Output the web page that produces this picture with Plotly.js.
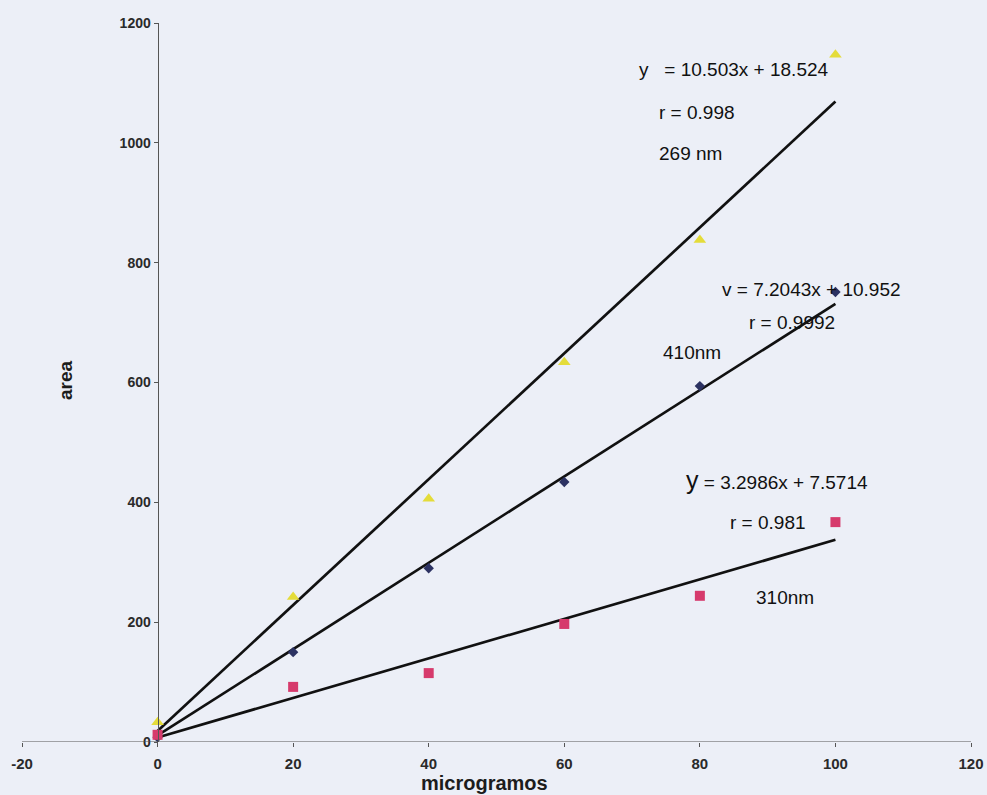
<!DOCTYPE html>
<html>
<head>
<meta charset="utf-8">
<script src="https://cdn.plot.ly/plotly-3.0.1.min.js"></script>
<style>html,body{margin:0;padding:0;background:#eceff7;}</style>
</head>
<body>
<div id="chart" style="width:987px;height:795px;"></div>
<script>
// Data
const xValues = [0, 20, 40, 60, 80, 100];
const area269 = [33, 242, 406, 634, 838, 1147];   // yellow triangles
const area410 = [8, 150, 290, 434, 594, 751];      // navy diamonds
const area310 = [12, 92, 115, 197, 244, 367];      // pink squares

const seriesNames = ['269 nm', '410nm', '310nm'];
const slopes = [10.503, 7.2043, 3.2986];
const intercepts = [18.524, 10.952, 7.5714];
const fitRange = [0, 100];

const xTicks = [-20, 0, 20, 40, 60, 80, 100, 120];
const yTicks = [0, 200, 400, 600, 800, 1000, 1200];

const markerStyles = [
  {symbol: 'triangle-up', color: '#e4dc3a', size: 11},
  {symbol: 'diamond', color: '#2c3262', size: 8},
  {symbol: 'square', color: '#d63a6c', size: 10}
];
const seriesData = [area269, area410, area310];

const traces = [];
for (let i = 0; i < 3; i++) {
  traces.push({
    x: fitRange,
    y: fitRange.map(v => slopes[i] * v + intercepts[i]),
    mode: 'lines',
    line: {color: '#111', width: 2.7},
    hoverinfo: 'skip',
    showlegend: false
  });
}
for (let i = 0; i < 3; i++) {
  traces.push({
    x: xValues,
    y: seriesData[i],
    name: seriesNames[i],
    mode: 'markers',
    marker: {symbol: markerStyles[i].symbol, color: markerStyles[i].color, size: markerStyles[i].size},
    showlegend: false
  });
}

const txtFont = {family: 'Liberation Sans, Arial, sans-serif', size: 19, color: '#111'};
function ann(x, y, text, extra) {
  return Object.assign({x: x, y: y, xref: 'x', yref: 'y', text: text, showarrow: false,
    xanchor: 'left', yanchor: 'middle', font: txtFont}, extra || {});
}

const layout = {
  width: 987, height: 795,
  margin: {l: 22, r: 16, t: 23, b: 53},
  paper_bgcolor: '#eceff7',
  plot_bgcolor: 'rgba(0,0,0,0)',
  showlegend: false,
  xaxis: {
    range: [-20, 120], tickvals: xTicks, ticktext: xTicks.map(String),
    showgrid: false, zeroline: false, showline: false,
    ticks: 'outside', ticklen: 4, tickcolor: '#555', ticklabelstandoff: 4,
    tickfont: {family: 'Liberation Sans, Arial, sans-serif', size: 15, color: '#2a2a2a', weight: 'bold'},
    anchor: 'free', position: 0
  },
  yaxis: {
    range: [0, 1200], tickvals: yTicks, ticktext: yTicks.map(String),
    showgrid: false, zeroline: false, showline: true, linecolor: '#555', linewidth: 1.2,
    ticks: 'outside', ticklen: 4, tickcolor: '#555',
    tickfont: {family: 'Liberation Sans, Arial, sans-serif', size: 14, color: '#2a2a2a', weight: 'bold'},
    anchor: 'free', position: 1 / 7
  },
  shapes: [
    {type: 'line', xref: 'x', yref: 'y', x0: -20, x1: 120, y0: 0, y1: 0, line: {color: '#555', width: 1.2}}
  ],
  annotations: [
    ann(70.8, 1123, 'y&nbsp;&nbsp; = 10.503x + 18.524'),
    ann(73.7, 1050, 'r = 0.998'),
    ann(73.7, 983, '269 nm'),
    ann(82.9, 756, 'v = 7.2043x + 10.952'),
    ann(86.9, 700, 'r = 0.9992'),
    ann(74.2, 650, '410nm'),
    ann(77.6, 437, '<span style="font-size:25px">y</span> = 3.2986x + 7.5714'),
    ann(84.2, 367, 'r = 0.981'),
    ann(88.0, 242, '310nm'),
    {xref: 'paper', yref: 'paper', x: (484 - 22) / 949, y: -(783 - 742) / 719, text: '<b>microgramos</b>',
     showarrow: false, xanchor: 'center', yanchor: 'middle',
     font: {family: 'Liberation Sans, Arial, sans-serif', size: 20, color: '#1c1c1c'}},
    {xref: 'paper', yref: 'paper', x: (65 - 22) / 949, y: (742 - 380) / 719, text: '<b>area</b>',
     showarrow: false, xanchor: 'center', yanchor: 'middle', textangle: -90,
     font: {family: 'Liberation Sans, Arial, sans-serif', size: 19, color: '#1c1c1c'}}
  ]
};

Plotly.newPlot('chart', traces, layout, {displayModeBar: false, staticPlot: true});
</script>
</body>
</html>
